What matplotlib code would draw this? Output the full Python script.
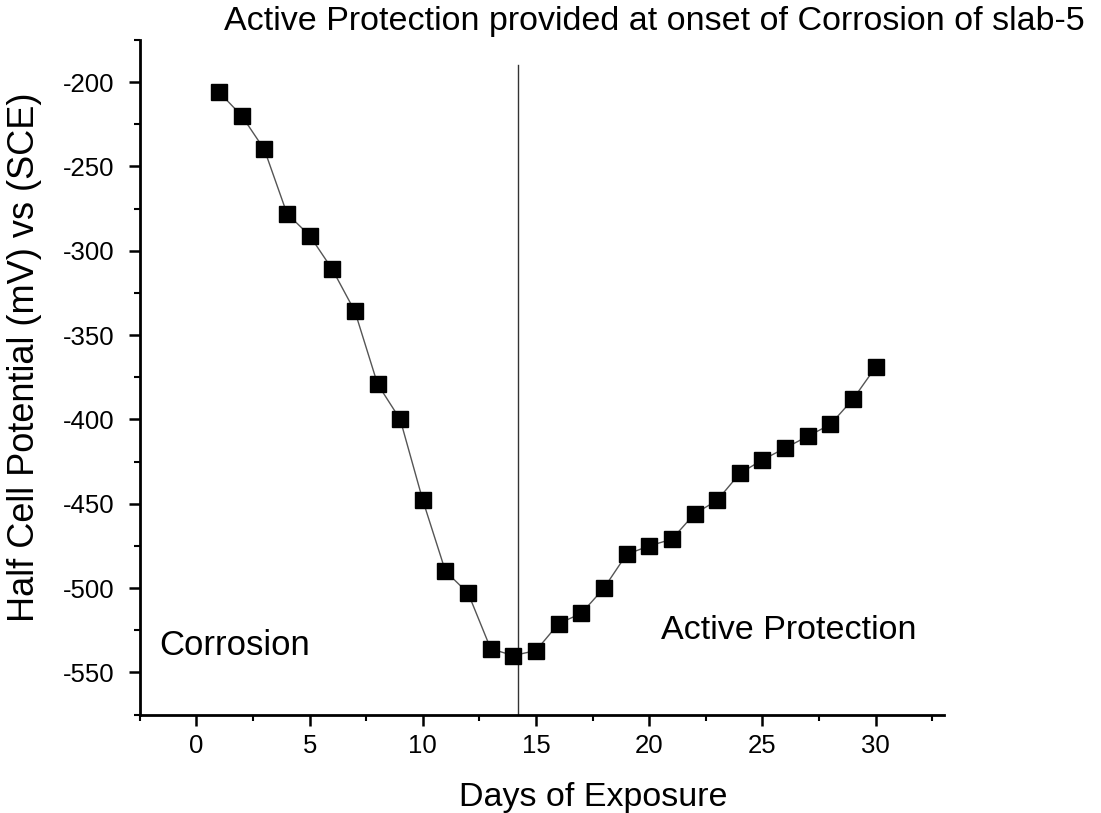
import matplotlib
matplotlib.use("Agg")
import matplotlib.pyplot as plt
from matplotlib.ticker import MultipleLocator

plt.rcParams['font.family'] = ['Liberation Sans', 'DejaVu Sans']
plt.rcParams['axes.unicode_minus'] = False

# Days of exposure and measured half cell potential (mV vs SCE)
days = [1, 2, 3, 4, 5, 6, 7, 8, 9, 10, 11, 12, 13, 14, 15,
        16, 17, 18, 19, 20, 21, 22, 23, 24, 25, 26, 27, 28, 29, 30]
potential = [-206, -220, -240, -278, -291, -311, -336, -379, -400, -448,
             -490, -503, -536, -540, -537, -521, -515, -500, -480, -475,
             -471, -456, -448, -432, -424, -417, -410, -403, -388, -369]

onset_day = 14.2
title = "Active Protection provided at onset of Corrosion of slab-5"

fig = plt.figure(figsize=(11.01, 8.13), dpi=100)
ax = fig.add_axes([0.127, 0.121, 0.730, 0.830])

ax.plot(days, potential, color='#555555', linewidth=1.0,
        marker='s', markersize=12, markerfacecolor='black',
        markeredgecolor='black', zorder=3)

# vertical divider at onset of protection
ax.plot([onset_day, onset_day], [-575, -190], color='#333333', linewidth=1.0)

ax.set_xlim(-2.5, 33)
ax.set_ylim(-575, -175)
ax.xaxis.set_major_locator(MultipleLocator(5))
ax.xaxis.set_minor_locator(MultipleLocator(2.5))
ax.yaxis.set_major_locator(MultipleLocator(50))
ax.yaxis.set_minor_locator(MultipleLocator(25))

for side in ['top', 'right']:
    ax.spines[side].set_visible(False)
for side in ['left', 'bottom']:
    ax.spines[side].set_linewidth(2.0)

ax.tick_params(which='major', direction='out', length=8, width=1.8,
               labelsize=18.5, pad=6)
ax.tick_params(which='minor', direction='out', length=4, width=1.5)
ax.tick_params(axis='y', which='major', pad=10)

ax.set_xlabel('Days of Exposure', fontsize=24.5)
ax.set_ylabel('Half Cell Potential (mV) vs (SCE)', fontsize=26)
ax.xaxis.set_label_coords(0.564, -0.100)
ax.yaxis.set_label_coords(-0.122, 0.53)

ax.text(-1.65, -534, 'Corrosion', fontsize=25, va='center', ha='left')
ax.text(20.5, -525, 'Active Protection', fontsize=24.5, va='center', ha='left')

fig.text(0.594, 0.973, title, fontsize=24.5, ha='center', va='center')

fig.savefig('out.png', dpi=100)
